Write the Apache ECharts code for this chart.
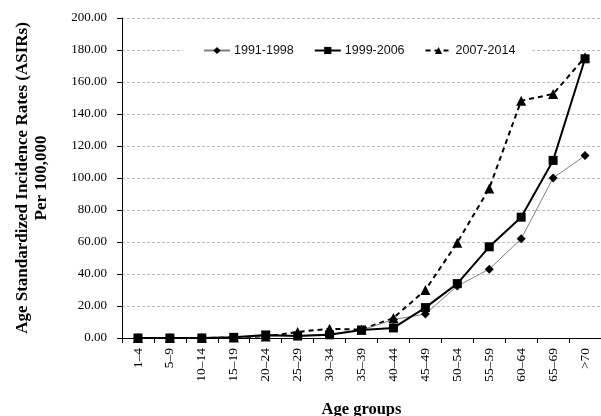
<!DOCTYPE html>
<html><head><meta charset="utf-8">
<script src="https://cdn.jsdelivr.net/npm/echarts@6/dist/echarts.min.js"></script>
<style>html,body{margin:0;padding:0;background:#fff}#c{width:601px;height:416px}</style>
</head><body><div id="c"></div>
<script>
var categories = ['1–4','5–9','10–14','15–19','20–24','25–29','30–34','35–39','40–44','45–49','50–54','55–59','60–64','65–69','>70'];
var s1991 = [0, 0, 0, 0.3, 1.0, 1.5, 2.5, 5.0, 11.5, 15.0, 32.5, 43.0, 62.0, 100.0, 114.0];
var s1999 = [0, 0, 0, 0.4, 1.9, 1.2, 2.0, 5.0, 6.3, 19.0, 34.0, 57.0, 75.5, 111.0, 174.5];
var s2007 = [0, 0, 0, 0.3, 1.0, 3.8, 5.8, 5.2, 12.5, 30.0, 59.6, 93.5, 148.3, 152.5, 175.5];
var seriesNames = ['1991-1998','1999-2006','2007-2014'];

var chart = echarts.init(document.getElementById('c'));
var serif = '"Liberation Serif","DejaVu Serif",serif';
chart.setOption({
  animation: false,
  backgroundColor: '#fff',
  grid: {left: 122, right: 0, top: 18, bottom: 78, containLabel: false, outerBoundsMode: 'none'},
  legend: {
    data: seriesNames,
    top: 40, left: 183,
    itemWidth: 26, itemHeight: 9, itemGap: 20,
    backgroundColor: '#fff',
    padding: [4, 17, 4, 20],
    textStyle: {fontFamily: '"Liberation Sans","DejaVu Sans",sans-serif', fontSize: 12.5, color: '#111', padding: [0, 0, 0, -1]}
  },
  xAxis: {
    type: 'category',
    data: categories,
    boundaryGap: true,
    axisLine: {lineStyle: {color: '#000', width: 1}},
    axisTick: {show: true, length: 5, lineStyle: {color: '#000'}},
    axisLabel: {rotate: 90, fontFamily: serif, fontSize: 13.5, color: '#000', margin: 10},
    name: 'Age groups',
    nameLocation: 'middle',
    nameGap: 63,
    nameTextStyle: {fontFamily: serif, fontSize: 16.5, fontWeight: 'bold', color: '#000'}
  },
  yAxis: {
    type: 'value',
    min: 0, max: 200, interval: 20,
    axisLine: {show: true, lineStyle: {color: '#000', width: 1}},
    axisTick: {show: true, length: 5, lineStyle: {color: '#000'}},
    axisLabel: {fontFamily: serif, fontSize: 13, color: '#000', margin: 15,
      formatter: function (v) { return v.toFixed(2); }},
    splitLine: {lineStyle: {color: '#bbb', type: [3, 2], width: 1}},
    name: 'Age Standardized Incidence Rates (ASIRs)\nPer 100,000',
    nameLocation: 'middle',
    nameRotate: 90,
    nameGap: 71,
    nameTextStyle: {fontFamily: serif, fontSize: 17, fontWeight: 'bold', color: '#000', lineHeight: 19, align: 'center'}
  },
  series: [
    {name: seriesNames[0], type: 'line', data: s1991, symbol: 'diamond', symbolSize: 9,
      lineStyle: {color: '#7f7f7f', width: 1}, itemStyle: {color: '#000'}, z: 3},
    {name: seriesNames[1], type: 'line', data: s1999, symbol: 'rect', symbolSize: 9,
      lineStyle: {color: '#000', width: 2}, itemStyle: {color: '#000'}, z: 4},
    {name: seriesNames[2], type: 'line', data: s2007, symbol: 'triangle', symbolSize: 10,
      lineStyle: {color: '#000', width: 2, type: [5, 4]}, itemStyle: {color: '#000'}, z: 2}
  ]
});
</script></body></html>
